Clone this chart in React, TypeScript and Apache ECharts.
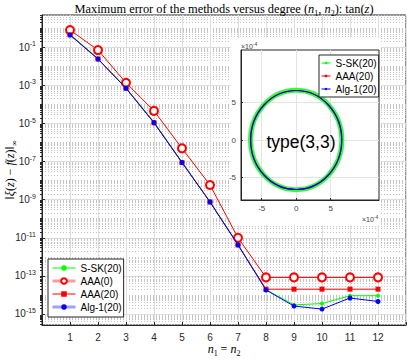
import React, { useEffect, useRef } from 'react';
import * as echarts from 'echarts';

// ---- data ----
const degrees = [1, 2, 3, 4, 5, 6, 7, 8, 9, 10, 11, 12];
const sskErr = [0.5, 0.025, 7.6e-4, 1.2e-5, 9.5e-8, 7.9e-10, 4.5e-12, 1.9e-14, 3.0e-15, 3.5e-15, 9.1e-15, 9.1e-15];
const aaa0Err = [0.81, 0.072, 1.38e-3, 4.6e-5, 5.0e-7, 5.9e-9, 1.0e-11, 8.3e-14, 8.3e-14, 8.3e-14, 8.3e-14, 8.3e-14];
const aaa20Err = [0.45, 0.0245, 7.1e-4, 1.1e-5, 8.9e-8, 7.6e-10, 4.2e-12, 2.0e-14, 2.0e-14, 2.0e-14, 2.0e-14, 2.0e-14];
const alg1Err = [0.45, 0.0245, 7.1e-4, 1.1e-5, 8.9e-8, 7.6e-10, 4.2e-12, 1.8e-14, 2.6e-15, 1.8e-15, 6.9e-15, 4.5e-15];
const yTickExponents = [-15, -13, -11, -9, -7, -5, -3, -1];
const insetTicks = [-5e-4, 0, 5e-4];
// inset circles: [centerX, centerY, radius]
const insetSSK = [[0, 0, 6.62e-4]];
const insetAAA = [[0, 0, 6.6e-4]];
const insetAlg = [[0, 0, 6.6e-4]];

const SANS = 'Liberation Sans, Arial, sans-serif';
const SERIF = 'Liberation Serif, Times New Roman, serif';
const AX = '#262626';

function pairs(y: number[]) {
  return degrees.map((d, i) => [d, y[i]]);
}

function circleSeries(name: string, data: number[][], color: string, width: number, z: number) {
  return {
    type: 'custom',
    name,
    xAxisIndex: 1,
    yAxisIndex: 2,
    data,
    z,
    silent: true,
    encode: { x: 0, y: 1 },
    renderItem: (params: any, api: any) => {
      const c = api.coord([api.value(0), api.value(1)]);
      const s = api.size([api.value(2), api.value(2)]);
      return {
        type: 'ellipse',
        shape: { cx: c[0], cy: c[1], rx: s[0], ry: s[1] },
        style: { fill: 'none', stroke: color, lineWidth: width },
      };
    },
  };
}

export default function App() {
  const ref = useRef<HTMLDivElement>(null);
  useEffect(() => {
    if (!ref.current) return;
    const chart = echarts.init(ref.current, undefined, { renderer: 'svg' });
    const majorVals = yTickExponents.map((e) => Math.pow(10, e));
    const minorVals: number[] = [];
    for (let k = -16; k <= 0; k++) {
      for (let m = 1; m <= 9; m++) {
        if (m === 1 && yTickExponents.includes(k)) continue;
        minorVals.push(m * Math.pow(10, k));
      }
    }
    const supRich = {
      b: { fontSize: 10, fontFamily: SANS, color: AX, lineHeight: 14 },
      s: { fontSize: 7, fontFamily: SANS, color: AX, verticalAlign: 'top' },
    };
    const nameRich = {
      i: { fontFamily: SERIF, fontStyle: 'italic', fontSize: 12, color: '#000', lineHeight: 16 },
      n: { fontFamily: SERIF, fontSize: 12, color: '#000', lineHeight: 16 },
      sub: { fontFamily: SERIF, fontSize: 8, color: '#000', verticalAlign: 'bottom' },
    };
    const option: any = {
      animation: false,
      backgroundColor: '#fff',
      grid: [
        { left: 42, top: 15, right: 1, bottom: 35, show: true, borderColor: AX, borderWidth: 1, backgroundColor: 'transparent', outerBoundsMode: 'none', z: 0 },
        { left: 241, top: 50, right: 28, bottom: 160, show: true, borderColor: AX, borderWidth: 1, backgroundColor: 'transparent', outerBoundsMode: 'none', z: 2 },
      ],
      xAxis: [
        {
          type: 'value', gridIndex: 0, min: 0, max: 13, interval: 1, z: 0,
          name: '{i|n}{sub|1}{n| = }{i|n}{sub|2}',
          nameLocation: 'middle', nameGap: 16, nameMoveOverlap: false,
          nameTextStyle: { rich: nameRich },
          axisLine: { show: true, onZero: false, lineStyle: { color: AX, width: 1 } },
          axisTick: { show: true, inside: true, length: 3, lineStyle: { color: AX } },
          axisLabel: {
            fontSize: 10, fontFamily: SANS, color: AX, margin: 7,
            formatter: (v: number) => (v >= 1 && v <= 12 ? String(v) : ''),
          },
          splitLine: { show: true, lineStyle: { color: '#dedede', width: 1 } },
        },
        {
          type: 'value', gridIndex: 1, min: -8e-4, max: 12e-4, z: 2,
          axisLine: { show: true, onZero: false, lineStyle: { color: AX, width: 1 } },
          axisTick: { show: true, inside: true, length: 2, customValues: insetTicks, lineStyle: { color: AX } },
          axisLabel: {
            customValues: insetTicks, fontSize: 8, fontFamily: SANS, color: '#444', margin: 4,
            formatter: (v: number) => String(Math.round(v * 1e4)),
          },
          splitLine: { show: true, lineStyle: { color: '#e4e4e4', width: 1 } },
        },
      ],
      yAxis: [
        {
          type: 'log', logBase: 10, gridIndex: 0, min: 2.63e-16, max: 5.0, z: 0,
          name: '{n|‖}{i|ξ}{n|(}{i|z}{n|) − }{i|f}{n|(}{i|z}{n|)‖}{sub|∞}',
          nameLocation: 'middle', nameGap: 24, nameRotate: 90, nameMoveOverlap: false,
          nameTextStyle: { rich: nameRich },
          axisLine: { show: true, onZero: false, lineStyle: { color: AX, width: 1 } },
          axisTick: { show: true, inside: true, length: 3, customValues: majorVals, lineStyle: { color: AX } },
          axisLabel: {
            customValues: majorVals, margin: 6,
            formatter: (v: number) => `{b|10}{s|${Math.round(Math.log10(v))}}`,
            rich: supRich,
          },
          splitLine: { show: true, lineStyle: { color: '#dedede', width: 1 } },
        },
        {
          type: 'log', logBase: 10, gridIndex: 0, min: 2.63e-16, max: 5.0, z: 0,
          axisLine: { show: false },
          axisTick: { show: true, inside: true, length: 2, customValues: minorVals, lineStyle: { color: AX } },
          axisLabel: { show: false },
          splitLine: { show: true, lineStyle: { color: '#c4c4c4', width: 1, type: [1, 2] } },
        },
        {
          type: 'value', gridIndex: 1, min: -8e-4, max: 12e-4, z: 2,
          axisLine: { show: true, onZero: false, lineStyle: { color: AX, width: 1 } },
          axisTick: { show: true, inside: true, length: 2, customValues: insetTicks, lineStyle: { color: AX } },
          axisLabel: {
            customValues: insetTicks, fontSize: 8, fontFamily: SANS, color: '#444', margin: 5,
            formatter: (v: number) => String(Math.round(v * 1e4)),
          },
          splitLine: { show: true, lineStyle: { color: '#e4e4e4', width: 1 } },
        },
      ],
      legend: [
        {
          orient: 'vertical', left: 48, top: 259,
          data: [
            { name: 'S-SK(20)', lineStyle: { width: 1 } },
            { name: 'AAA(0)', lineStyle: { width: 3, color: '#ff9c9c' } },
            { name: 'AAA(20)', lineStyle: { width: 1 } },
            { name: 'Alg-1(20)', lineStyle: { width: 3, color: '#a0a0ff' } },
          ],
          itemWidth: 23, itemHeight: 7, itemGap: 3,
          padding: [4, 2, 5, 3],
          backgroundColor: '#fff', borderColor: AX, borderWidth: 1,
          textStyle: { fontSize: 10, fontFamily: SANS, color: '#000' },
          selectedMode: false,
        },
        {
          orient: 'vertical', left: 319, top: 55,
          data: [
            { name: 'S-SK(20)', lineStyle: { width: 1 } },
            { name: 'AAA(20)', lineStyle: { width: 1 } },
            { name: 'Alg-1(20)', lineStyle: { width: 1 } },
          ],
          itemWidth: 9, itemHeight: 3, itemGap: 3,
          padding: [3, 2, 3, 2],
          backgroundColor: '#fff', borderColor: AX, borderWidth: 1,
          textStyle: { fontSize: 10, fontFamily: SANS, color: '#000' },
          selectedMode: false,
          z: 6,
        },
      ],
      graphic: [
        { type: 'rect', shape: { x: 231, y: 38, width: 150, height: 187 }, style: { fill: '#fff' }, z: 1, silent: true },
        {
          type: 'text', x: 224, y: 9, z: 10,
          style: {
            text: '{r|Maximum error of the methods versus degree (}{i|n}{sub|1}{r|, }{i|n}{sub|2}{r|): tan(}{i|z}{r|)}',
            align: 'center', verticalAlign: 'middle',
            rich: {
              r: { fontFamily: SERIF, fontSize: 12.4, fill: '#000', lineHeight: 16 },
              i: { fontFamily: SERIF, fontStyle: 'italic', fontSize: 12.4, fill: '#000', lineHeight: 16 },
              sub: { fontFamily: SERIF, fontSize: 8, fill: '#000', verticalAlign: 'bottom' },
            },
          },
        },
        {
          type: 'text', x: 301, y: 142, z: 10,
          style: { text: 'type(3,3)', fontSize: 17.5, fontFamily: SANS, fill: '#000', align: 'center', verticalAlign: 'middle' },
        },
        {
          type: 'text', x: 241, y: 46, z: 10,
          style: {
            text: '{a|×10}{s|-4}', align: 'left', verticalAlign: 'middle',
            rich: { a: { fontSize: 7, fontFamily: SANS, fill: '#444', lineHeight: 10 }, s: { fontSize: 5, fontFamily: SANS, fill: '#444', verticalAlign: 'top' } },
          },
        },
        {
          type: 'text', x: 362, y: 219, z: 10,
          style: {
            text: '{a|×10}{s|-4}', align: 'left', verticalAlign: 'middle',
            rich: { a: { fontSize: 7, fontFamily: SANS, fill: '#444', lineHeight: 10 }, s: { fontSize: 5, fontFamily: SANS, fill: '#444', verticalAlign: 'top' } },
          },
        },
      ],
      series: [
        {
          type: 'line', name: 'S-SK(20)', xAxisIndex: 0, yAxisIndex: 0, data: pairs(sskErr), z: 2,
          symbol: 'circle', symbolSize: 4, itemStyle: { color: '#00ff00' }, lineStyle: { color: '#00ff00', width: 1 },
        },
        {
          type: 'line', name: 'AAA(0)', xAxisIndex: 0, yAxisIndex: 0, data: pairs(aaa0Err), z: 3,
          symbol: 'emptyCircle', symbolSize: 8, itemStyle: { color: '#ff0000', borderWidth: 1.2 }, lineStyle: { color: '#ff0000', width: 1 },
        },
        {
          type: 'line', name: 'AAA(20)', xAxisIndex: 0, yAxisIndex: 0, data: pairs(aaa20Err), z: 4,
          symbol: 'rect', symbolSize: 5, itemStyle: { color: '#ff0000' }, lineStyle: { color: '#ff0000', width: 1 },
        },
        {
          type: 'line', name: 'Alg-1(20)', xAxisIndex: 0, yAxisIndex: 0, data: pairs(alg1Err), z: 5,
          symbol: 'circle', symbolSize: 5, itemStyle: { color: '#0000ff' }, lineStyle: { color: '#0000ff', width: 1 },
        },
        circleSeries('S-SK(20) curve', insetSSK, '#33ff33', 5, 3),
        circleSeries('AAA(20) curve', insetAAA, '#ff0000', 1.2, 4),
        circleSeries('Alg-1(20) curve', insetAlg, '#0000ff', 1.2, 5),
      ],
    };
    chart.setOption(option);
    return () => chart.dispose();
  }, []);
  return <div ref={ref} style={{ width: 407, height: 360, position: 'absolute', left: 0, top: 0 }} />;
}
